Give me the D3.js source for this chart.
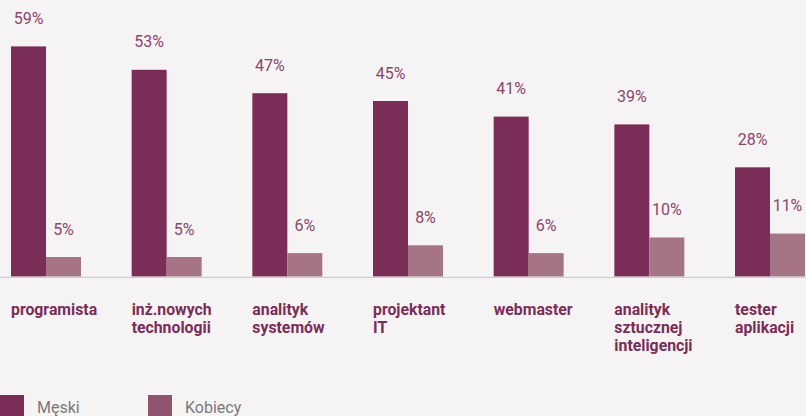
<!DOCTYPE html>
<html><head><meta charset="utf-8">
<script src="https://cdn.jsdelivr.net/npm/d3@7"></script>
<style>
html,body{margin:0;padding:0;background:#f5f3f4;}
svg{display:block;}
</style></head>
<body>
<svg id="chart" width="806" height="416"></svg>
<script>
const categories = [["programista"],["inż.nowych","technologii"],["analityk","systemów"],["projektant","IT"],["webmaster"],["analityk","sztucznej","inteligencji"],["tester","aplikacji"]];
const seriesNames = ["Męski","Kobiecy"];
const maleValues = [59,53,47,45,41,39,28];
const femaleValues = [5,5,6,8,6,10,11];

const W = 806, H = 416;
const svg = d3.select("#chart");
svg.append("rect").attr("width",W).attr("height",H).attr("fill","#f5f3f4");

const keys = categories.map(c => c.join(" "));
const x0 = d3.scaleBand().domain(keys).range([11, 805]).paddingInner(0.42).paddingOuter(0);
const x1 = d3.scaleBand().domain(seriesNames).range([0, x0.bandwidth()]).padding(0);
const y = d3.scaleLinear().domain([0, 70]).range([276.5, 3.5]);
const barColors = {"Męski":"#7a2e57","Kobiecy":"#a67585"};
const legendColors = {"Męski":"#7a2e57","Kobiecy":"#8f5570"};

const data = keys.map((k,i)=>({key:k, lines:categories[i], vals:[{s:"Męski",v:maleValues[i]},{s:"Kobiecy",v:femaleValues[i]}]}));

const g = svg.selectAll("g.grp").data(data).join("g").attr("class","grp")
  .attr("transform", d => `translate(${x0(d.key)},0)`);

g.selectAll("rect").data(d=>d.vals).join("rect")
  .attr("x", d=>x1(d.s)).attr("width", x1.bandwidth())
  .attr("y", d=>y(d.v)).attr("height", d=>y(0)-y(d.v))
  .attr("fill", d=>barColors[d.s]);

g.selectAll("text.val").data(d=>d.vals).join("text").attr("class","val")
  .attr("x", d=>x1(d.s)+x1.bandwidth()/2)
  .attr("y", d=>y(d.v)-22.5)
  .attr("text-anchor","middle")
  .attr("font-family","Roboto, sans-serif").attr("font-size",16)
  .attr("fill","#8a466b")
  .text(d=>d.v+"%");

// baseline
svg.append("line").attr("x1",0).attr("x2",W).attr("y1",277.3).attr("y2",277.3)
  .attr("stroke","#cfcccd").attr("stroke-width",1.3);

// category labels
g.append("text")
  .attr("font-family","Roboto, sans-serif").attr("font-weight","bold").attr("font-size",15.8)
  .attr("fill","#7a2e57")
  .selectAll("tspan").data(d=>d.lines).join("tspan")
  .attr("x",0).attr("y",(d,i)=>314.5+i*18).text(d=>d);

// legend
const lg = svg.selectAll("g.leg").data(seriesNames).join("g").attr("class","leg")
  .attr("transform",(d,i)=>`translate(${i*148},395)`);
lg.append("rect").attr("width",24).attr("height",24).attr("fill",d=>legendColors[d]);
lg.append("text").attr("x",37).attr("y",18.3)
  .attr("font-family","Roboto, sans-serif").attr("font-size",16).attr("fill","#7a7a7a")
  .text(d=>d);
</script>
</body></html>
